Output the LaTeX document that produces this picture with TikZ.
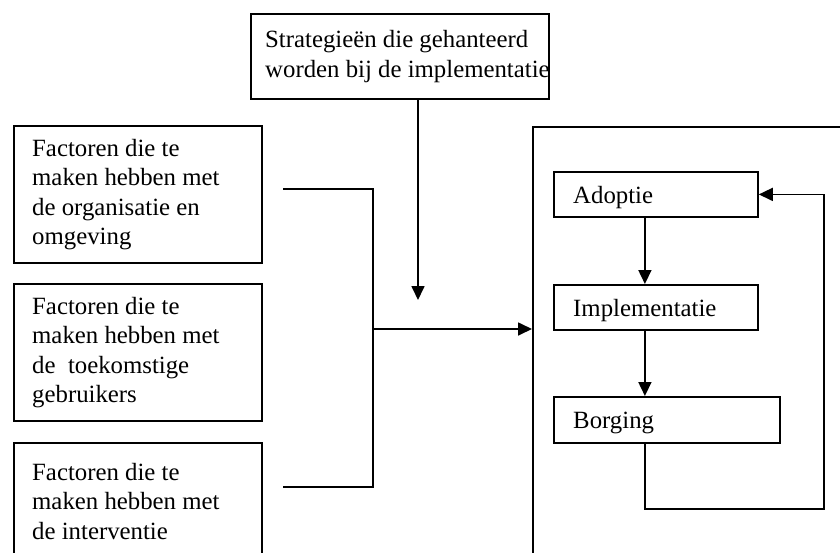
\documentclass[tikz,border=0pt]{standalone}
\usepackage{fontspec}
\setmainfont{Liberation Serif}
\usetikzlibrary{positioning, arrows.meta, calc}
\tikzset{
box/.style={draw, line width=1.8pt, rectangle, anchor=north west, inner sep=0pt},
factor/.style={box, minimum width=248pt, minimum height=137pt},
stage/.style={box, minimum width=204pt, minimum height=45pt},
txt/.style={anchor=west, align=left, inner sep=0pt, font=\fontsize{24.8}{29.5}\selectfont},
stagetxt/.style={txt, yshift=-3pt},
conn/.style={line width=1.7pt},
arr/.style={conn, -{Triangle[length=14pt, width=13pt]}},
}

\begin{document}
\begin{tikzpicture}[x=1pt, y=-1pt]
    \useasboundingbox (0,0) rectangle (840,552);
    \clip (0,0) rectangle (840,552);

    %boxes and text
    \node[box, minimum width=298pt, minimum height=85pt] (strat) at (250,13) {};
    \node[txt] (strattxt) at ([xshift=15pt]strat.west) {Strategieën die gehanteerd\\worden bij de implementatie};

    \node[factor] (org) at (13,125) {};
    \node[factor] (user) at (13,283) {};
    \node[factor, minimum height=117pt] (interv) at (13,442) {};
    \node[txt] (orgtxt) at ([xshift=19pt]org.west) {Factoren die te\\maken hebben met\\de organisatie en\\omgeving};
    \node[txt] (usertxt) at ([xshift=19pt]user.west) {Factoren die te\\maken hebben met\\de\ \ toekomstige\\gebruikers};
    \node[txt] (intervtxt) at ([xshift=19pt]interv.west) {Factoren die te\\maken hebben met\\de interventie};

    \node[box, minimum width=400pt, minimum height=500pt] (proc) at (532,126) {};
    \node[stage] (adop) at (553,171) {};
    \node[stage] (impl) at (553,284) {};
    \node[stage, minimum width=226pt, minimum height=46pt] (borg) at (553,396) {};
    \node[stagetxt] (adoptxt) at ([xshift=20pt]adop.west) {Adoptie};
    \node[stagetxt] (impltxt) at ([xshift=20pt]impl.west) {Implementatie};
    \node[stagetxt] (borgtxt) at ([xshift=20pt]borg.west) {Borging};

    %lines
    \coordinate (ot) at (283,189);
    \coordinate (ob) at (283,487);
    \coordinate (jt) at (373,189);
    \coordinate (jb) at (373,487);
    \coordinate (jm) at (373,329);
    \coordinate (sp) at (418,300);
    \coordinate (lp) at (824,509);
    \draw[conn] (ot) -- (jt) -- (jb) -- (ob);
    \draw[arr] (jm) -- (jm -| proc.west);
    \draw[arr] (strat.south -| sp) -- (sp);

    %stages
    \draw[arr] ([xshift=-11pt]adop.south) -- ([xshift=-11pt]impl.north);
    \draw[arr] ([xshift=-11pt]impl.south) -- ([xshift=-11pt]impl.south |- borg.north);
    \draw[arr] ([xshift=-22pt]borg.south) |- (lp) |- (adop.east);

\end{tikzpicture}
\end{document}
